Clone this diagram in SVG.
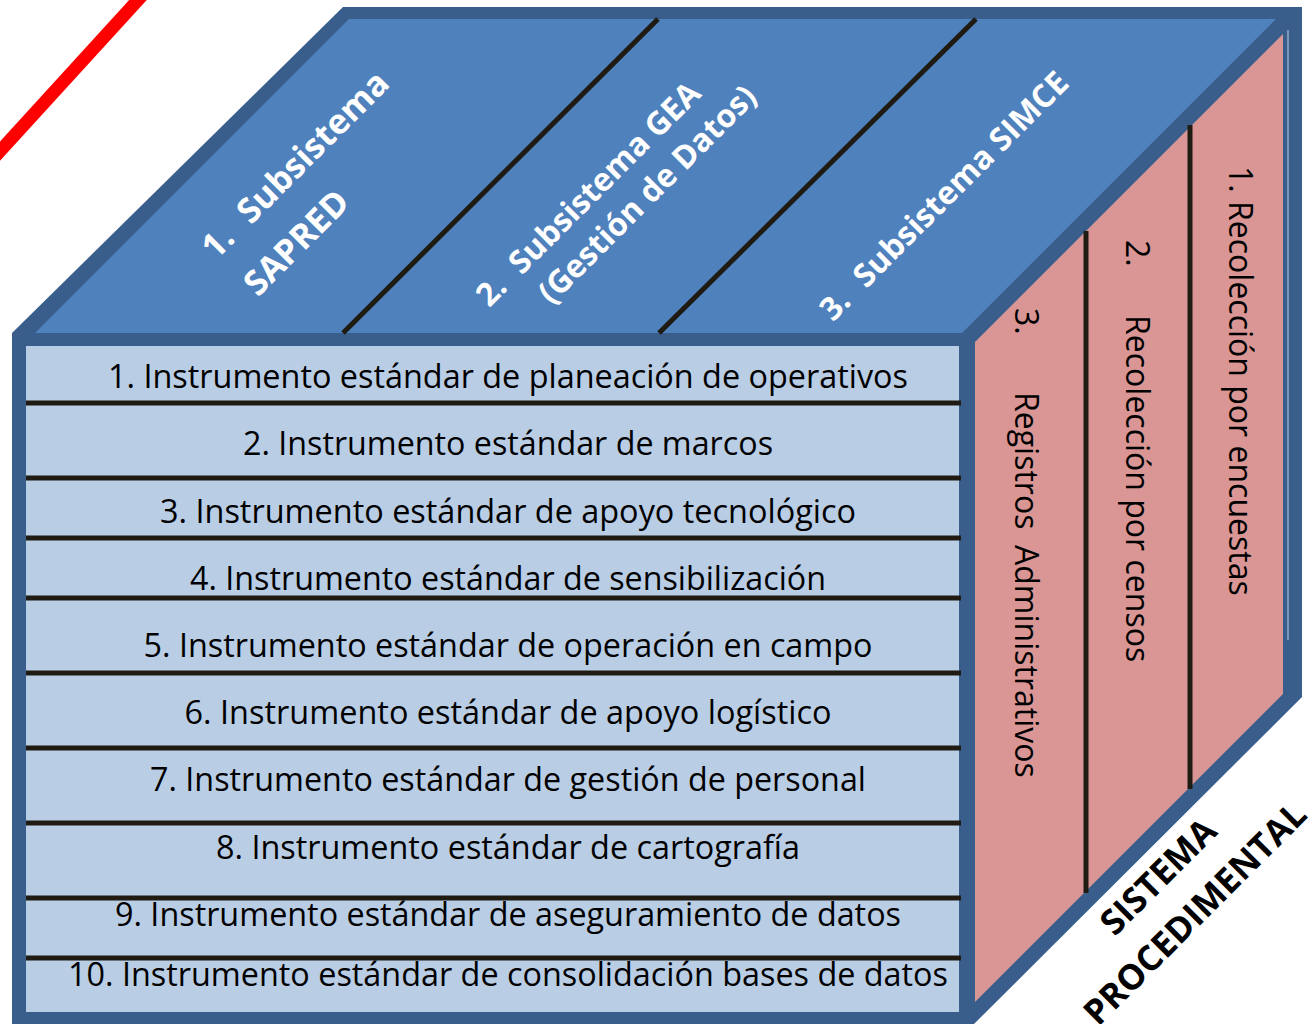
<svg xmlns="http://www.w3.org/2000/svg" width="1315" height="1024" viewBox="0 0 1315 1024">
  <style>
    .border { fill: #3A5E8C; }
    .topface { fill: #4F81BD; }
    .frontface { fill: #B9CDE5; }
    .sideface { fill: #D99694; }
    .div { stroke: #1F1B12; stroke-width: 5; fill: none; }
    .front { font-family: "Open Sans", "Liberation Sans", sans-serif; font-size: 32px; fill: #000; text-anchor: middle; }
    .side { font-family: "Open Sans", "Liberation Sans", sans-serif; font-size: 32px; fill: #000; }
    .top { font-family: "Open Sans", "Liberation Sans", sans-serif; font-size: 32px; font-weight: 700; fill: #FFFFFF; }
    .top-lg { font-size: 34.5px; }
    .proc { font-family: "Open Sans", "Liberation Sans", sans-serif; font-size: 35px; font-weight: 700; fill: #000; text-anchor: middle; }
  </style>

  <rect width="1315" height="1024" fill="#FFFFFF"/>

  <!-- red diagonal line -->
  <line x1="-10" y1="162" x2="148" y2="-11" stroke="#FF0000" stroke-width="13"/>

  <g id="cube">
    <polygon class="border" points="12,333 343,7 1302,7 1302,697 974,1024 12,1024"/>
    <polygon class="topface" points="35,333 349,19 1276,19 962,333"/>
    <rect class="frontface" x="26" y="346" width="933" height="666"/>
    <polygon class="sideface" points="975,342 1283,34 1283,694 975,1002"/>
    <line x1="1288" y1="30" x2="1288" y2="640" stroke="#A8BCD6" stroke-width="2" opacity="0.6"/>
  </g>

  <g id="connectors">
    <line class="div" x1="343" y1="333" x2="658" y2="19"/>
    <line class="div" x1="659" y1="333" x2="976" y2="19"/>
    <line class="div" x1="26" y1="403" x2="961" y2="403"/>
    <line class="div" x1="26" y1="478" x2="961" y2="478"/>
    <line class="div" x1="26" y1="538" x2="961" y2="538"/>
    <line class="div" x1="26" y1="598" x2="961" y2="598"/>
    <line class="div" x1="26" y1="673" x2="961" y2="673"/>
    <line class="div" x1="26" y1="748" x2="961" y2="748"/>
    <line class="div" x1="26" y1="823" x2="961" y2="823"/>
    <line class="div" x1="26" y1="898" x2="961" y2="898"/>
    <line class="div" x1="26" y1="958" x2="961" y2="958"/>
    <line class="div" x1="1086" y1="231" x2="1086" y2="893"/>
    <line class="div" x1="1190" y1="125" x2="1190" y2="789"/>
  </g>

  <!-- top face: subsystems -->
  <g id="subsistema-1" transform="rotate(-45)">
    <text class="top top-lg" x="-32" y="337">1.</text>
    <text class="top top-lg" x="18" y="337">Subsistema</text>
    <text class="top top-lg" x="-28" y="393">SAPRED</text>
  </g>
  <g id="subsistema-2" transform="rotate(-45)">
    <text class="top" x="128" y="564">2.</text>
    <text class="top" x="174" y="564">Subsistema GEA</text>
    <text class="top" x="174" y="606">(Gestión de Datos)</text>
  </g>
  <g id="subsistema-3" transform="rotate(-45)">
    <text class="top" x="361" y="817">3.</text>
    <text class="top" x="408" y="817">Subsistema SIMCE</text>
  </g>

  <!-- front face: instruments -->
  <g id="instrumento-1"><text class="front" x="508" y="388" textLength="800" lengthAdjust="spacingAndGlyphs">1. Instrumento estándar de planeación de operativos</text></g>
  <g id="instrumento-2"><text class="front" x="508" y="455" textLength="530" lengthAdjust="spacingAndGlyphs">2. Instrumento estándar de marcos</text></g>
  <g id="instrumento-3"><text class="front" x="508" y="523" textLength="696" lengthAdjust="spacingAndGlyphs">3. Instrumento estándar de apoyo tecnológico</text></g>
  <g id="instrumento-4"><text class="front" x="508" y="590" textLength="636" lengthAdjust="spacingAndGlyphs">4. Instrumento estándar de sensibilización</text></g>
  <g id="instrumento-5"><text class="front" x="508" y="657" textLength="729" lengthAdjust="spacingAndGlyphs">5. Instrumento estándar de operación en campo</text></g>
  <g id="instrumento-6"><text class="front" x="508" y="724" textLength="647" lengthAdjust="spacingAndGlyphs">6. Instrumento estándar de apoyo logístico</text></g>
  <g id="instrumento-7"><text class="front" x="508" y="791" textLength="716" lengthAdjust="spacingAndGlyphs">7. Instrumento estándar de gestión de personal</text></g>
  <g id="instrumento-8"><text class="front" x="508" y="859" textLength="584" lengthAdjust="spacingAndGlyphs">8. Instrumento estándar de cartografía</text></g>
  <g id="instrumento-9"><text class="front" x="508" y="926" textLength="786" lengthAdjust="spacingAndGlyphs">9. Instrumento estándar de aseguramiento de datos</text></g>
  <g id="instrumento-10"><text class="front" x="508" y="986" textLength="880" lengthAdjust="spacingAndGlyphs">10. Instrumento estándar de consolidación bases de datos</text></g>

  <!-- right face: collection types -->
  <g id="recoleccion-encuestas" transform="rotate(90)">
    <text class="side" x="166" y="-1229">1. Recolección por encuestas</text>
  </g>
  <g id="recoleccion-censos" transform="rotate(90)">
    <text class="side" x="240" y="-1126">2.</text>
    <text class="side" x="315" y="-1126">Recolección por censos</text>
  </g>
  <g id="registros-administrativos" transform="rotate(90)">
    <text class="side" x="308" y="-1015">3.</text>
    <text class="side" x="392" y="-1015">Registros</text>
    <text class="side" x="545" y="-1015">Administrativos</text>
  </g>

  <!-- label -->
  <g id="sistema-procedimental" transform="rotate(-45)">
    <text class="proc" x="199" y="1451">SISTEMA</text>
    <text class="proc" x="199" y="1503">PROCEDIMENTAL</text>
  </g>
</svg>
